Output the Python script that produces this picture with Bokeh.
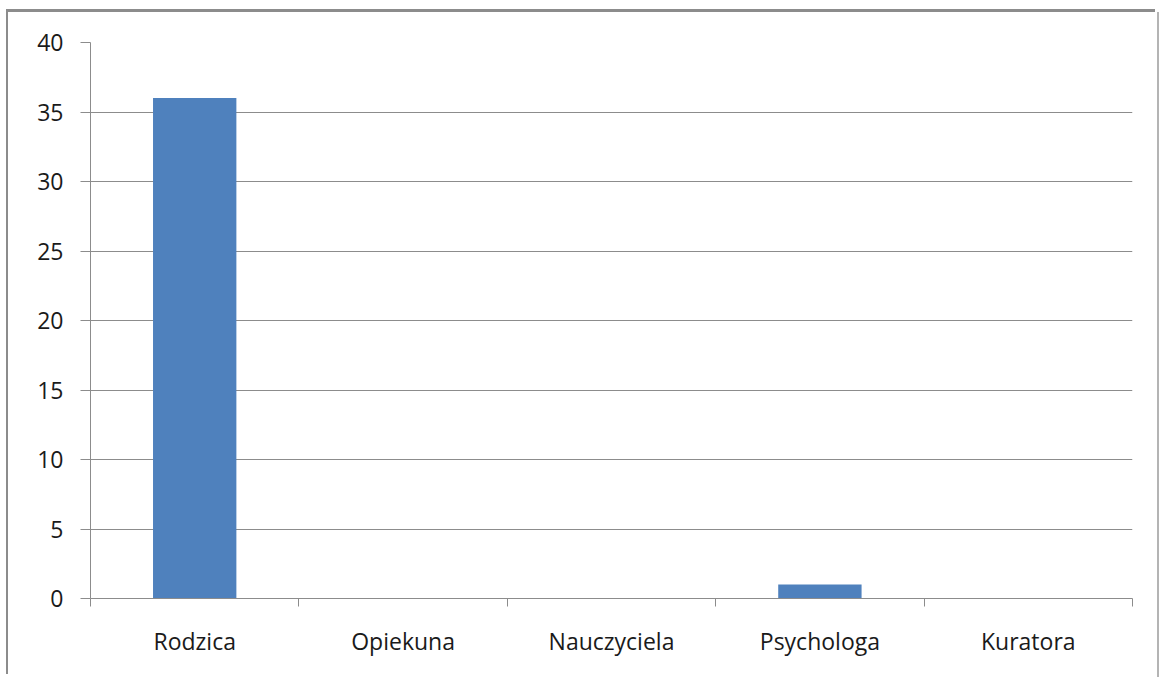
from bokeh.plotting import figure
from bokeh.models import FixedTicker, Range1d
from bokeh.embed import file_html
from bokeh.resources import INLINE

categories = ["Rodzica", "Opiekuna", "Nauczyciela", "Psychologa", "Kuratora"]
values = [36, 0, 0, 1, 0]
y_ticks = [0, 5, 10, 15, 20, 25, 30, 35, 40]

W, H = 1149, 665
p = figure(width=W, height=H, output_backend="svg", toolbar_location=None,
           x_range=Range1d(0, len(categories)), y_range=Range1d(0, 40),
           min_border_left=82, min_border_right=25, min_border_top=30, min_border_bottom=79,
           margin=(12, 0, 0, 8))
p.styles = {"box-shadow": "-2px -3px 0 #8c8c8c, 2px 0 0 #b4b4b4"}
p.outline_line_color = None
p.background_fill_color = "white"
p.border_fill_color = "white"

centers = [i + 0.5 for i in range(len(categories))]
p.vbar(x=centers, top=values, width=0.4, bottom=0, color="#4F81BD", line_color=None)

# x axis
p.xaxis.ticker = FixedTicker(ticks=centers, minor_ticks=list(range(len(categories) + 1)))
p.xaxis.major_label_overrides = {c: n for c, n in zip(centers, categories)}
p.xaxis.major_tick_out = 0
p.xaxis.major_tick_in = 0
p.xaxis.minor_tick_out = 8
p.xaxis.minor_tick_in = 0
p.xaxis.minor_tick_line_color = "#8c8c8c"
p.xaxis.axis_line_color = "#8c8c8c"
p.xaxis.major_label_text_font = "Open Sans"
p.xaxis.major_label_text_font_size = "23px"
p.xaxis.major_label_text_color = "#1a1a1a"
p.xaxis.major_label_standoff = 18
p.xgrid.grid_line_color = None

# y axis
p.yaxis.ticker = FixedTicker(ticks=y_ticks, minor_ticks=[])
p.yaxis.major_tick_out = 10
p.yaxis.major_tick_in = 0
p.yaxis.major_tick_line_color = "#8c8c8c"
p.yaxis.axis_line_color = "#8c8c8c"
p.yaxis.major_label_text_font = "Open Sans"
p.yaxis.major_label_text_font_size = "23px"
p.yaxis.major_label_text_color = "#1a1a1a"
p.yaxis.major_label_standoff = 17
p.ygrid.grid_line_color = "#8c8c8c"
p.ygrid.grid_line_width = 1

open("out.html", "w").write(file_html(p, INLINE))
